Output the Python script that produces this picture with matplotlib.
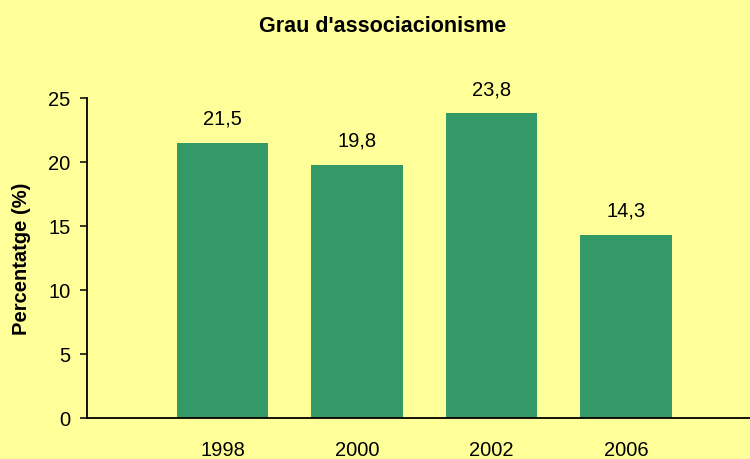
import matplotlib
matplotlib.use("Agg")
import matplotlib.pyplot as plt

categories = ["1998", "2000", "2002", "2006"]
values = [21.5, 19.8, 23.8, 14.3]
yticks = [0, 5, 10, 15, 20, 25]

title = "Grau d'associacionisme"
ylabel = "Percentatge (%)"

bg = "#FFFF99"
bar_color = "#339966"

plt.rcParams['font.family'] = ['Liberation Sans', 'DejaVu Sans']

fig = plt.figure(figsize=(7.5, 4.6), dpi=100, facecolor=bg)
ax = fig.add_axes([87/750, 41/460, 1 - 87/750 + 0.01, 320/460])
ax.set_facecolor(bg)

x = list(range(len(categories)))
bars = ax.bar(x, values, width=0.68, color=bar_color, zorder=2)

ax.set_xlim(-1.01, 3.98)
ax.set_ylim(0, 25)
ax.set_yticks(yticks)
ax.set_xticks(x)
ax.set_xticklabels(categories)

for xi, v in zip(x, values):
    ax.annotate(f"{v:.1f}".replace(".", ","), (xi, v), xytext=(0, 11),
                textcoords="offset points", ha="center", va="bottom",
                fontsize=14.5, color="black")

for s in ["top", "right"]:
    ax.spines[s].set_visible(False)
for s in ["left", "bottom"]:
    ax.spines[s].set_linewidth(1.3)
    ax.spines[s].set_color("black")

ax.tick_params(axis="y", length=5, width=1.1, pad=7, labelsize=14.5)
ax.tick_params(axis="x", length=0, pad=16, labelsize=14.5)

ax.set_ylabel(ylabel, fontsize=14.5, fontweight="bold", labelpad=12)
fig.text(0.5 + 0.01, 1 - 26/460, title, ha="center", va="center",
         fontsize=15.5, fontweight="bold")

fig.savefig("out.png", dpi=100, facecolor=bg)
